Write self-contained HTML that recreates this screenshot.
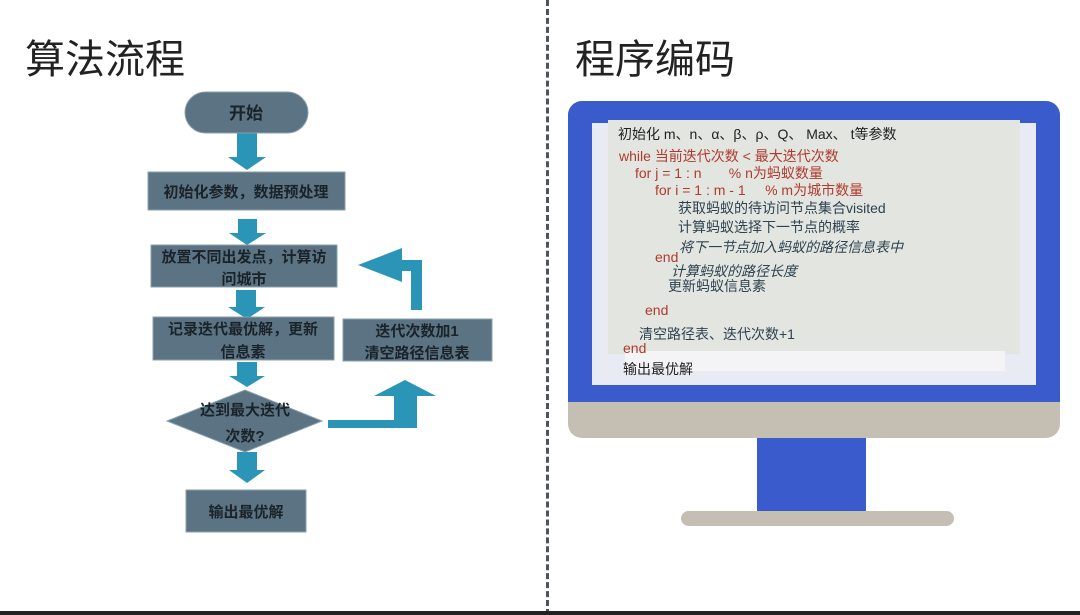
<!DOCTYPE html>
<html><head><meta charset="utf-8"><style>
body{margin:0;width:1080px;height:615px;background:#fff;position:relative;overflow:hidden;font-family:"Liberation Sans","Noto Sans CJK SC",sans-serif}
.a{position:absolute}
.t{font-size:40px;color:#222;top:27px}
.c{position:absolute;font-size:14px;white-space:nowrap;line-height:16px}
.r{color:#b03a2e}.k{color:#222}.g{color:#2e4250}.i{font-style:italic}
</style></head><body>
<div class="a" style="left:546px;top:0;width:0;height:615px;border-left:3px dashed #4a5560"></div>
<div class="a" style="left:0;top:611px;width:1080px;height:4px;background:#222"></div>
<div class="a t" style="left:25px">算法流程</div>
<div class="a t" style="left:575px">程序编码</div>
<svg class="a" style="left:0;top:0" width="546" height="615">
<g fill="#2b95b8">
<rect x="237" y="133" width="20" height="24"/><polygon points="228,157 266,157 247,170"/>
<rect x="238" y="219" width="19" height="14"/><polygon points="229,233 266,233 247,245"/>
<rect x="236" y="290" width="20" height="18"/><polygon points="228,307 265,307 247,319"/>
<rect x="237" y="362" width="20" height="14"/><polygon points="229,376 265,376 247,387"/>
<rect x="237" y="452" width="20" height="18"/><polygon points="229,470 265,470 247,483"/>
<polygon points="328,420 328,428 417,428 417,396 436,396 405,380 374,396 394,396 394,420"/>
<polygon points="422,310 422,260 402,260 402,248 358,265 402,282 402,271 411,271 411,310"/>
</g>
<g fill="#5b7383" stroke="#8aa0ad" stroke-width="1">
<rect x="185" y="92" width="123" height="41" rx="20.5"/>
<rect x="148" y="172" width="197" height="38"/>
<rect x="151" y="245" width="186" height="42"/>
<rect x="153" y="317" width="181" height="43"/>
<rect x="343" y="319" width="149" height="42"/>
<polygon points="167,421 245,390 322,421 245,452"/>
<rect x="186" y="490" width="120" height="42"/>
</g>
<g font-family="Liberation Sans,Noto Sans CJK SC,sans-serif" font-size="15" font-weight="bold" fill="#1a232a" text-anchor="middle">
<text x="246" y="119" font-size="17">开始</text>
<text x="246" y="197">初始化参数，数据预处理</text>
<text x="244" y="262">放置不同出发点，计算访</text><text x="244" y="284">问城市</text>
<text x="243" y="334">记录迭代最优解，更新</text><text x="243" y="357">信息素</text>
<text x="417" y="336">迭代次数加1</text><text x="417" y="358">清空路径信息表</text>
<text x="245" y="415">达到最大迭代</text><text x="245" y="441">次数?</text>
<text x="246" y="517">输出最优解</text>
</g>
</svg>
<div class="a" style="left:568px;top:101px;width:492px;height:337px;border-radius:14px;background:#c4bfb2;overflow:hidden">
<div class="a" style="left:0;top:0;width:492px;height:301px;background:#3a5bcc"></div>
</div>
<div class="a" style="left:592px;top:123px;width:444px;height:262px;background:#e8eaf4"></div>
<div class="a" style="left:608px;top:120px;width:412px;height:234px;background:#e3e5e1"></div>
<div class="a" style="left:625px;top:351px;width:380px;height:20px;background:#f4f4f6"></div>
<div class="a" style="left:757px;top:438px;width:109px;height:74px;background:#3a5bcc"></div>
<div class="a" style="left:681px;top:511px;width:273px;height:15px;border-radius:8px;background:#c4bfb2"></div>
<div class="c k" style="left:618px;top:126px">初始化 m、n、α、β、ρ、Q、 Max、 t等参数</div>
<div class="c r" style="left:619px;top:148px">while 当前迭代次数 &lt; 最大迭代次数</div>
<div class="c r" style="left:635px;top:165px">for j = 1 : n &nbsp;&nbsp;&nbsp;&nbsp;&nbsp; % n为蚂蚁数量</div>
<div class="c r" style="left:655px;top:182px">for i = 1 : m - 1 &nbsp;&nbsp;&nbsp; % m为城市数量</div>
<div class="c g" style="left:678px;top:200px">获取蚂蚁的待访问节点集合visited</div>
<div class="c g" style="left:678px;top:219px">计算蚂蚁选择下一节点的概率</div>
<div class="c g i" style="left:679px;top:239px">将下一节点加入蚂蚁的路径信息表中</div>
<div class="c r" style="left:655px;top:249px">end</div>
<div class="c g i" style="left:671px;top:263px">计算蚂蚁的路径长度</div>
<div class="c g" style="left:668px;top:278px">更新蚂蚁信息素</div>
<div class="c r" style="left:645px;top:302px">end</div>
<div class="c g" style="left:639px;top:326px">清空路径表、迭代次数+1</div>
<div class="c r" style="left:623px;top:340px">end</div>
<div class="c k" style="left:623px;top:361px">输出最优解</div>
</body></html>
